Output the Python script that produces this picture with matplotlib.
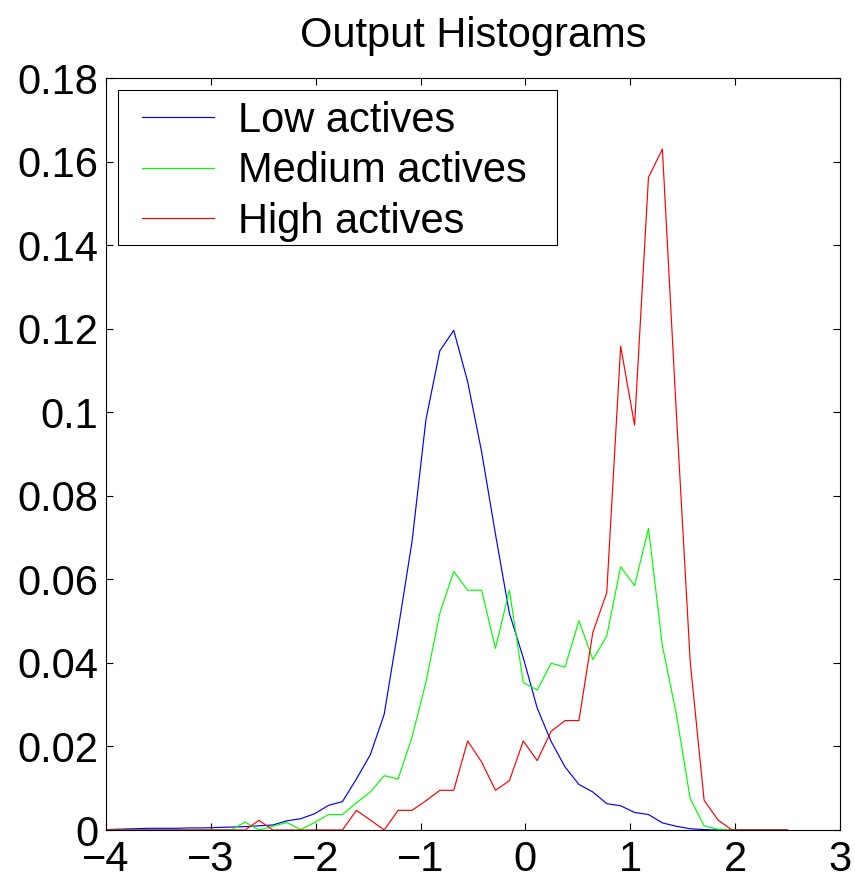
import numpy as np
import matplotlib
matplotlib.use("Agg")
import matplotlib.pyplot as plt
from matplotlib.patches import Rectangle

plt.rcParams['font.family'] = ['Liberation Sans', 'DejaVu Sans']

# bin centres: 50 bins from -4 to 2.5
x_start, x_stop, n_bins = -4.0, 2.5, 50

low_actives = [
    0.0001, 0.0002, 0.0003, 0.0004, 0.0004, 0.0004, 0.0005, 0.0005, 0.0006, 0.0007,
    0.0008, 0.0010, 0.0012, 0.0022, 0.0027, 0.0039, 0.0059, 0.0068, 0.0122, 0.0180,
    0.0277, 0.0480, 0.0690, 0.0982, 0.1147, 0.1196, 0.1073, 0.0906, 0.0708, 0.0519,
    0.0412, 0.0292, 0.0212, 0.0151, 0.0109, 0.0091, 0.0063, 0.0058, 0.0042, 0.0037,
    0.0017, 0.0009, 0.0003, 0.0001, 0.0, 0.0, 0.0, 0.0, 0.0, 0.0,
]
medium_actives = [
    0.0, 0.0, 0.0, 0.0, 0.0, 0.0, 0.0, 0.0, 0.0, 0.0,
    0.0019, 0.0, 0.0009, 0.0018, 0.0001, 0.0018, 0.0037, 0.0037, 0.0065, 0.0091,
    0.0130, 0.0122, 0.0222, 0.0354, 0.0519, 0.0619, 0.0574, 0.0574, 0.0435, 0.0574,
    0.0353, 0.0335, 0.0399, 0.0390, 0.0501, 0.0408, 0.0464, 0.0630, 0.0585, 0.0722,
    0.0441, 0.0278, 0.0075, 0.0010, 0.0002, 0.0, 0.0, 0.0, 0.0, 0.0,
]
high_actives = [
    0.0, 0.0, 0.0, 0.0, 0.0, 0.0, 0.0, 0.0, 0.0, 0.0,
    0.0, 0.0023, 0.0, 0.0, 0.0, 0.0, 0.0, 0.0, 0.0047, 0.0024,
    0.0, 0.0047, 0.0047, 0.0070, 0.0095, 0.0095, 0.0213, 0.0163, 0.0095, 0.0118,
    0.0213, 0.0166, 0.0236, 0.0262, 0.0262, 0.0473, 0.0568, 0.1158, 0.0969, 0.1562,
    0.1630, 0.1000, 0.0403, 0.0071, 0.0024, 0.0, 0.0, 0.0, 0.0, 0.0,
]
labels = ["Low actives", "Medium actives", "High actives"]
colors = ["#0000ff", "#00ff00", "#ff0000"]
x_ticks = [-4, -3, -2, -1, 0, 1, 2, 3]
y_ticks = [0, 0.02, 0.04, 0.06, 0.08, 0.1, 0.12, 0.14, 0.16, 0.18]
y_tick_labels = ["0", "0.02", "0.04", "0.06", "0.08", "0.1", "0.12", "0.14", "0.16", "0.18"]
title = "Output Histograms"

x = np.linspace(x_start, x_stop, n_bins)

W, H = 855, 877
fig = plt.figure(figsize=(W / 100, H / 100), dpi=100)
ax = fig.add_axes([106 / W, 1 - 830 / H, (840 - 106) / W, (830 - 78) / H])

for ys, lab, c in zip([low_actives, medium_actives, high_actives], labels, colors):
    ax.plot(x, ys, color=c, lw=0.85, label=lab)

ax.set_xlim(-4, 3)
ax.set_ylim(0, 0.18)
ax.set_xticks(x_ticks)
ax.set_xticklabels([("\u2212" + str(-t)) if t < 0 else str(t) for t in x_ticks])
ax.set_yticks(y_ticks)
ax.set_yticklabels(y_tick_labels)

fs = 30
ax.tick_params(direction='in', length=5, width=0.8, top=True, right=True,
               labelsize=fs, colors='black')
ax.tick_params(axis='y', pad=5.5)
ax.tick_params(axis='x', pad=7.5)
for s in ax.spines.values():
    s.set_linewidth(0.8)
    s.set_color('black')

ax.set_title(title, fontsize=fs, pad=22)

# legend box (frame drawn separately so padding can differ horizontally/vertically)
box = Rectangle((118 / W, 1 - 245 / H), (557 - 118) / W, (245 - 90) / H,
                transform=fig.transFigure, facecolor='white', edgecolor='black',
                linewidth=0.8, zorder=4)
ax.add_patch(box)
box.set_clip_on(False)

em = fs * 100 / 72.0
leg = ax.legend(loc='upper left', bbox_to_anchor=(142 / W, 1 - 101 / H),
                bbox_transform=fig.transFigure, fontsize=fs, frameon=False,
                borderaxespad=0, borderpad=0,
                handlelength=72 / em, handletextpad=24 / em,
                labelspacing=0.25)
leg.set_zorder(5)

fig.savefig("out.png", dpi=100)
